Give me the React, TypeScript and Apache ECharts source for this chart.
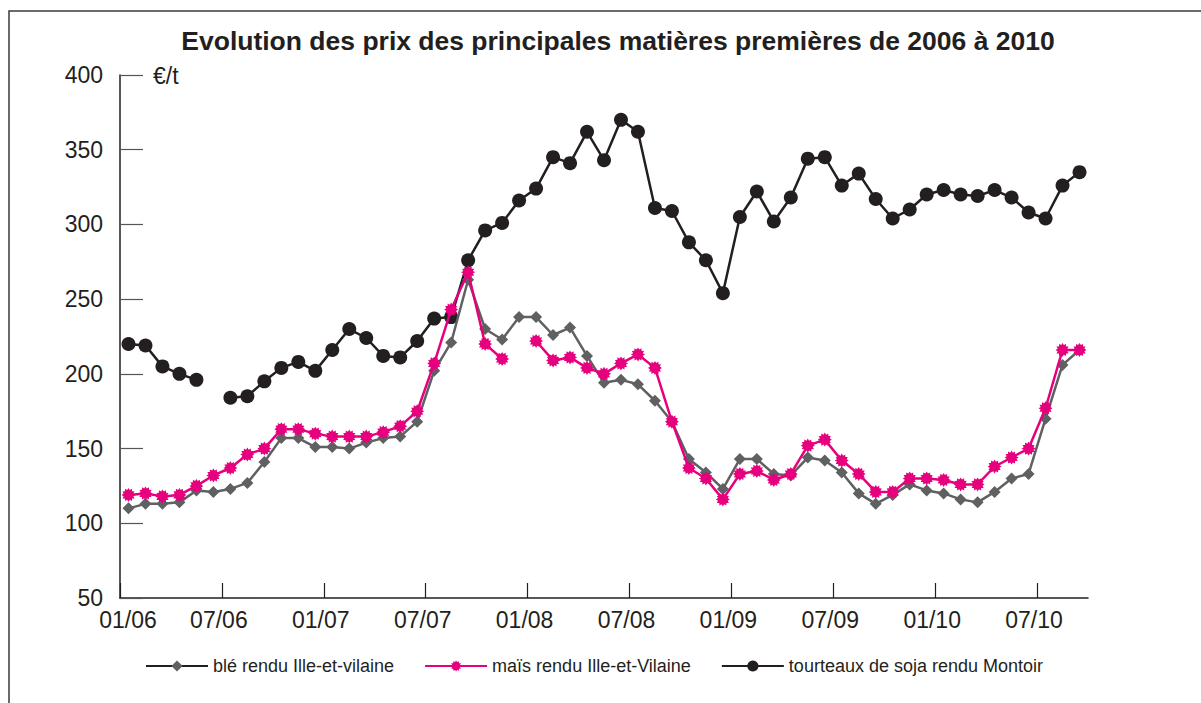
import React, { useEffect, useRef } from "react";
import * as echarts from "echarts";

const title = "Evolution des prix des principales matières premières de 2006 à 2010";
const unitLabel = "€/t";
const tickLabels = ["01/06", "07/06", "01/07", "07/07", "01/08", "07/08", "01/09", "07/09", "01/10", "07/10"];
const seriesNames = [
  "blé rendu Ille-et-vilaine",
  "maïs rendu Ille-et-Vilaine",
  "tourteaux de soja rendu Montoir",
];
// monthly values from 01/06 to 09/10
const ble = [110, 113, 113, 114, 122, 121, 123, 127, 141, 157, 157, 151, 151, 150, 154, 157, 158, 168, 202, 221, 263, 230, 223, 238, 238, 226, 231, 212, 194, 196, 193, 182, 168, 143, 134, 123, 143, 143, 133, 132, 144, 142, 134, 120, 113, 119, 126, 122, 120, 116, 114, 121, 130, 133, 170, 206, 216];
const mais = [119, 120, 118, 119, 125, 132, 137, 146, 150, 163, 163, 160, 158, 158, 158, 161, 165, 175, 207, 243, 268, 220, 210, null, 222, 209, 211, 204, 200, 207, 213, 204, 168, 137, 130, 116, 133, 135, 129, 133, 152, 156, 142, 133, 121, 121, 130, 130, 129, 126, 126, 138, 144, 150, 177, 216, 216];
const soja = [220, 219, 205, 200, 196, null, 184, 185, 195, 204, 208, 202, 216, 230, 224, 212, 211, 222, 237, 238, 276, 296, 301, 316, 324, 345, 341, 362, 343, 370, 362, 311, 309, 288, 276, 254, 305, 322, 302, 318, 344, 345, 326, 334, 317, 304, 310, 320, 323, 320, 319, 323, 318, 308, 304, 326, 335];

const FONT = '"Liberation Sans", Arial, Helvetica, sans-serif';
const BLACK = "#231f20";
const GREY = "#5f6062";
const PINK = "#e6007e";

function starPath(): string {
  const n = 12;
  const pts: string[] = [];
  for (let i = 0; i < n * 2; i++) {
    const r = i % 2 === 0 ? 10 : 7.2;
    const a = (Math.PI * i) / n;
    const x = 10 + r * Math.sin(a);
    const y = 10 - r * Math.cos(a);
    pts.push((i === 0 ? "M" : "L") + x.toFixed(2) + " " + y.toFixed(2));
  }
  return "path://" + pts.join(" ") + " Z";
}

const toPoints = (arr: (number | null)[]) => arr.map((v, i) => [i + 0.5, v]);

export default function App() {
  const ref = useRef<HTMLDivElement>(null);
  useEffect(() => {
    if (!ref.current) return;
    const chart = echarts.init(ref.current, undefined, { renderer: "svg" });
    chart.setOption({
      animation: false,
      backgroundColor: "#ffffff",
      textStyle: { fontFamily: FONT },
      title: {
        text: title,
        left: 613,
        textAlign: "center",
        top: 22,
        textStyle: { fontFamily: FONT, fontSize: 26.5, fontWeight: "bold", color: BLACK },
      },
      graphic: [
        {
          type: "rect",
          shape: { x: 9, y: 11, width: 1250, height: 750 },
          style: { fill: "none", stroke: "#3a3a3a", lineWidth: 1.5 },
          silent: true,
        },
        {
          type: "text",
          x: 153,
          y: 76,
          style: {
            text: unitLabel,
            font: `23px ${FONT}`,
            fill: BLACK,
            verticalAlign: "middle",
          },
        },
      ],
      legend: {
        left: 140,
        top: 652,
        itemWidth: 62,
        itemHeight: 14,
        itemGap: 30,
        textStyle: { fontSize: 18, color: BLACK, fontFamily: FONT },
        data: [
          { name: seriesNames[0], itemStyle: { color: GREY }, lineStyle: { color: BLACK } },
          { name: seriesNames[1] },
          { name: seriesNames[2] },
        ],
      },
      grid: { left: 120, right: 113, top: 75, height: 523 },
      xAxis: {
        type: "value",
        min: 0,
        max: 57,
        interval: 6,
        splitLine: { show: false },
        axisLine: { show: true, lineStyle: { color: BLACK, width: 1.5 } },
        axisTick: { show: true, inside: true, length: 15, lineStyle: { color: BLACK, width: 1.2 } },
        axisLabel: {
          fontSize: 23,
          color: BLACK,
          fontFamily: FONT,
          margin: 10,
          showMaxLabel: false,
          formatter: (v: number) => {
            if (v % 6 !== 0) return "";
            const t = tickLabels[v / 6];
            if (!t) return "";
            return v === 0 ? `{first|${t}}` : `{a|${t}}`;
          },
          rich: {
            first: { fontSize: 23, color: BLACK, fontFamily: FONT, padding: [0, 0, 0, 16] },
            a: { fontSize: 23, color: BLACK, fontFamily: FONT, padding: [0, 6, 0, 0] },
          },
        },
      },
      yAxis: {
        type: "value",
        min: 50,
        max: 400,
        interval: 50,
        splitLine: { show: false },
        axisLine: { show: true, lineStyle: { color: BLACK, width: 1.5 } },
        axisTick: { show: true, inside: true, length: 23, lineStyle: { color: "#555", width: 1.2 } },
        axisLabel: { fontSize: 23, color: BLACK, fontFamily: FONT, margin: 17 },
      },
      series: [
        {
          name: seriesNames[0],
          type: "line",
          data: toPoints(ble),
          symbol: "diamond",
          symbolSize: 12,
          lineStyle: { color: GREY, width: 2.5 },
          itemStyle: { color: GREY },
          z: 3,
        },
        {
          name: seriesNames[1],
          type: "line",
          data: toPoints(mais),
          symbol: starPath(),
          symbolSize: 14,
          lineStyle: { color: PINK, width: 2.5 },
          itemStyle: { color: PINK },
          z: 4,
        },
        {
          name: seriesNames[2],
          type: "line",
          data: toPoints(soja),
          symbol: "circle",
          symbolSize: 14,
          lineStyle: { color: BLACK, width: 2.5 },
          itemStyle: { color: BLACK },
          z: 2,
        },
      ],
    });
    return () => chart.dispose();
  }, []);
  return (
    <div
      ref={ref}
      style={{ position: "fixed", left: 0, top: 0, width: 1201, height: 703, background: "#fff" }}
    />
  );
}
